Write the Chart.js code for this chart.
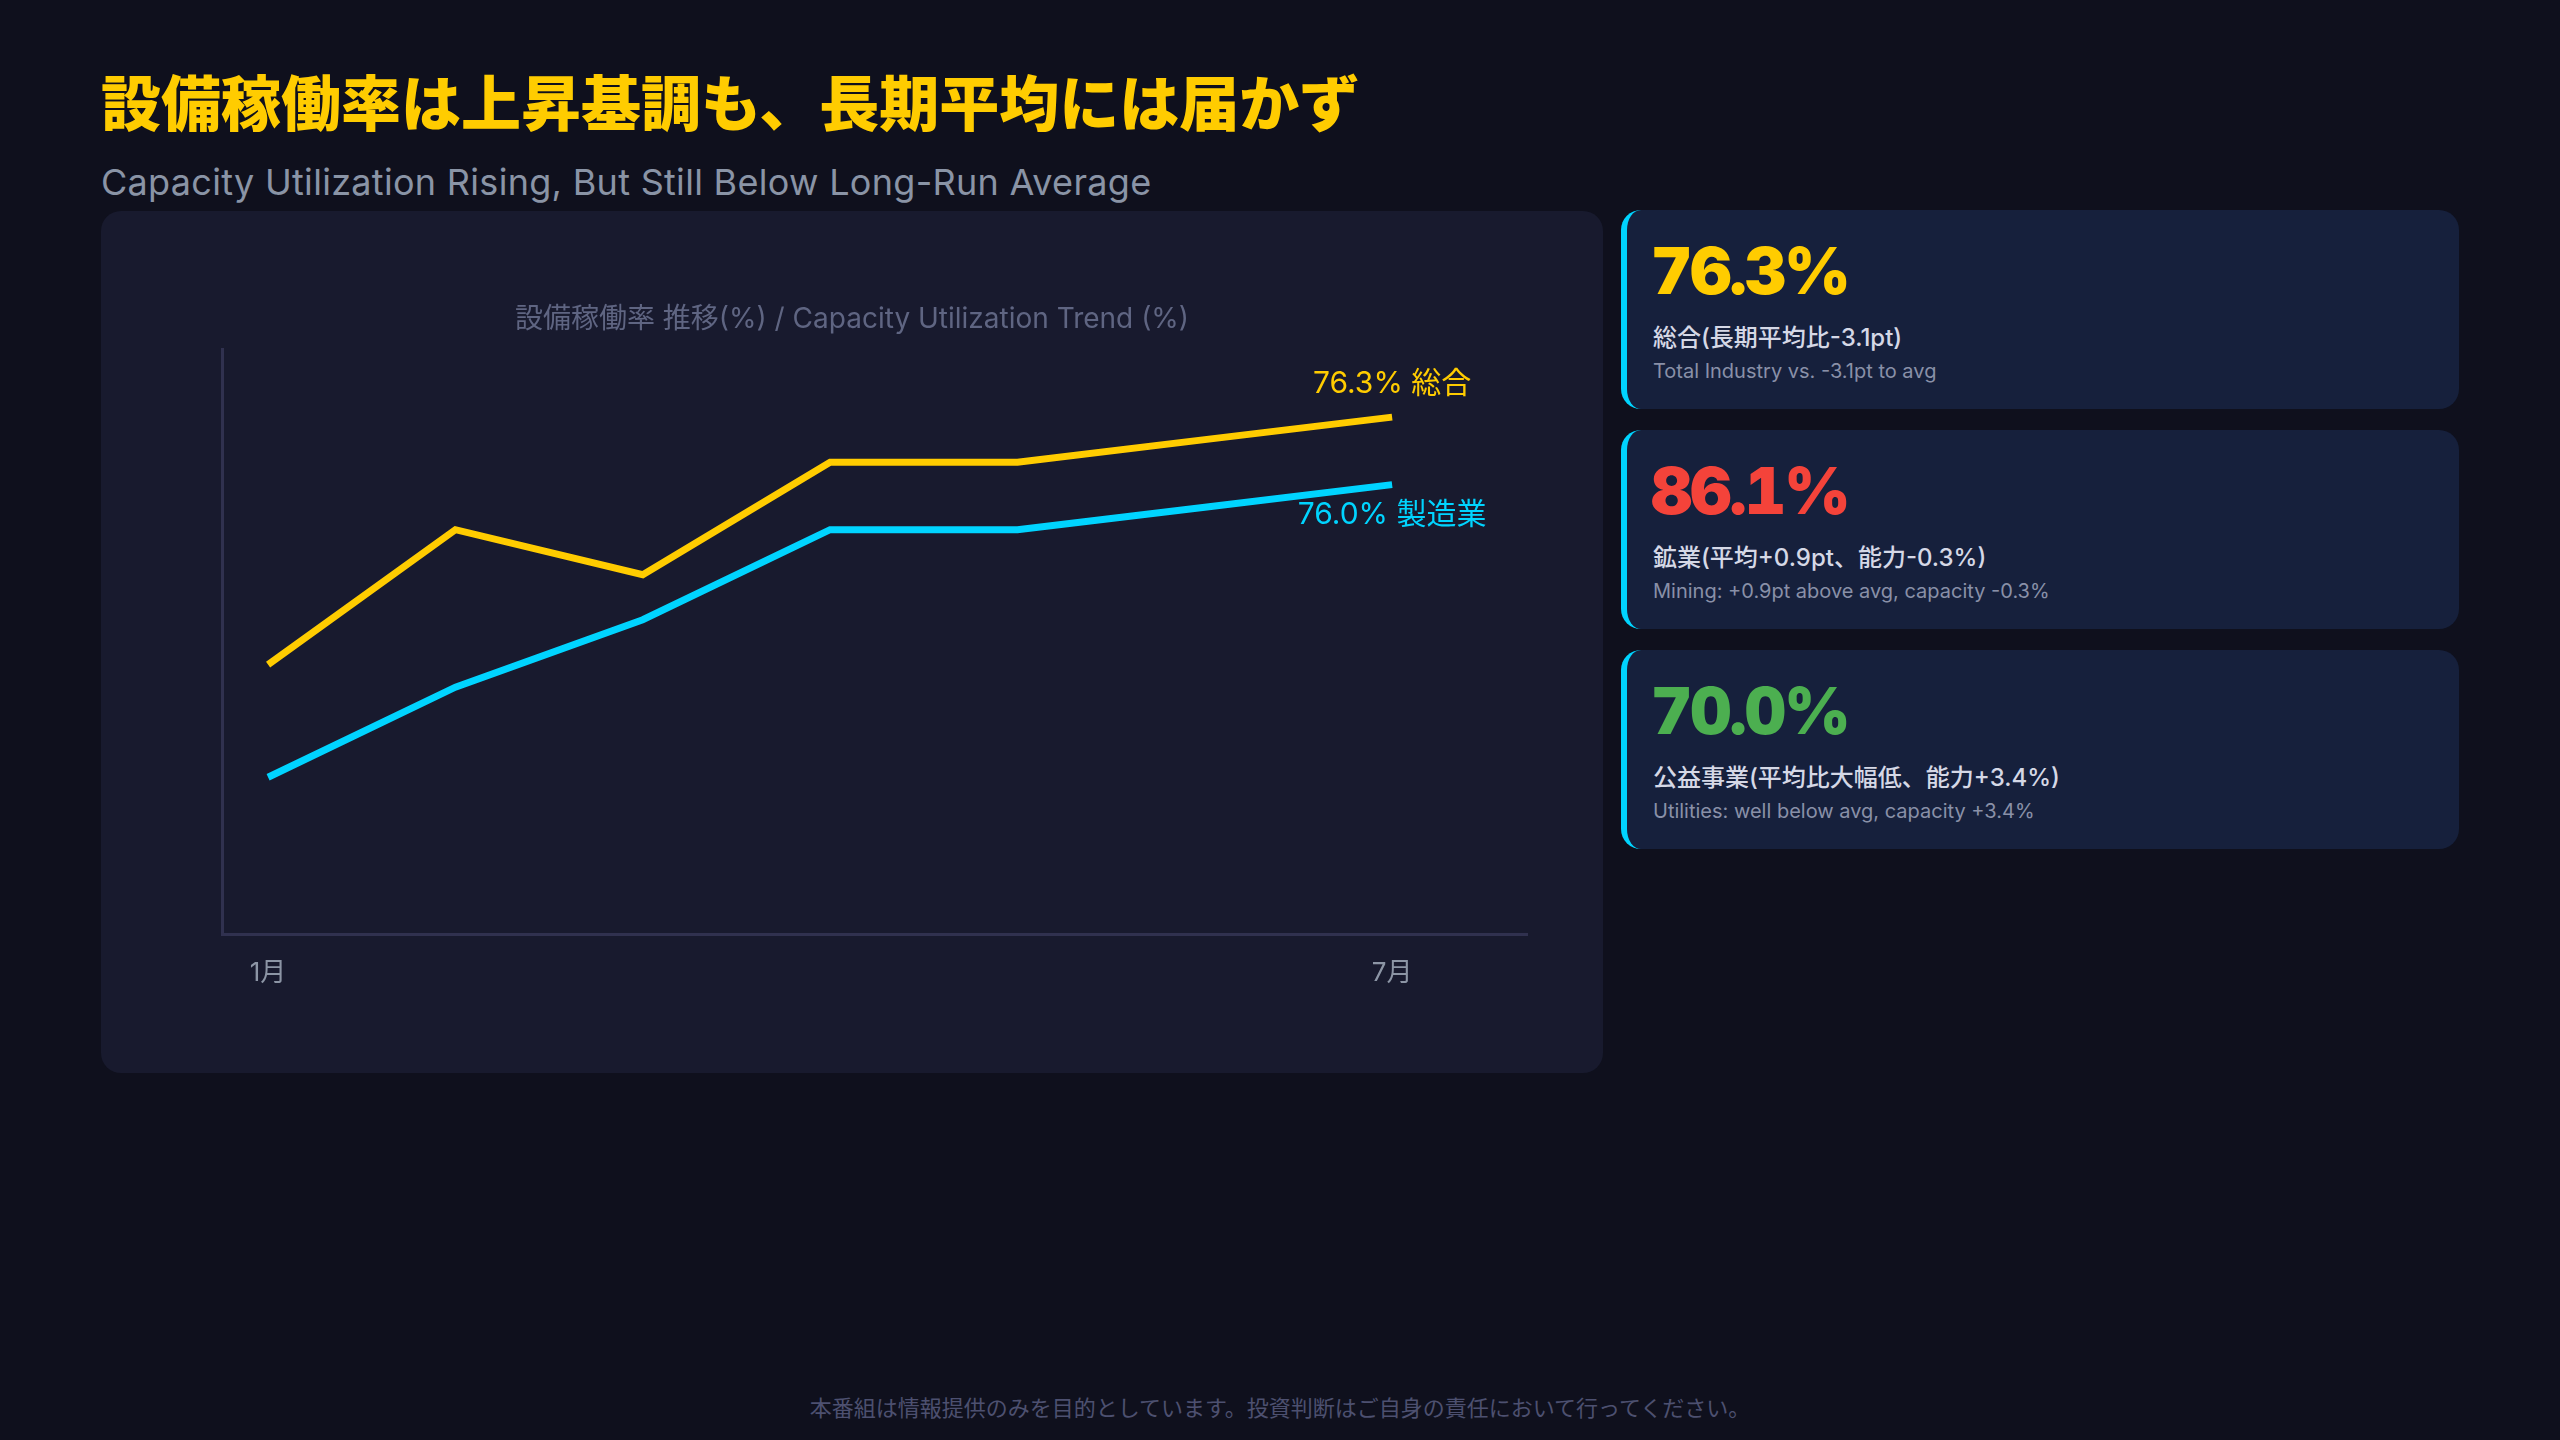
<!DOCTYPE html>
<html lang="ja">
<head>
<meta charset="utf-8">
<script src="https://cdn.jsdelivr.net/npm/chart.js@4.4.1/dist/chart.umd.min.js"></script>
<style>
  html, body { margin: 0; padding: 0; }
  body {
    width: 2560px; height: 1440px; position: relative; overflow: hidden;
    background: #0f101d;
    font-family: "Inter", "Noto Sans CJK JP", sans-serif;
  }
  .title {
    position: absolute; left: 101px; top: 70px; margin: 0;
    font-family: "Noto Sans CJK JP", sans-serif; font-weight: 900;
    font-size: 60px; line-height: 60px; color: #ffcc00; white-space: nowrap;
  }
  .subtitle {
    position: absolute; left: 101px; top: 164px; margin: 0;
    font-size: 36px; line-height: 36px; letter-spacing: 0.3px; color: #8a94a6; white-space: nowrap;
  }
  .chart-card {
    position: absolute; left: 101px; top: 211px; width: 1502px; height: 862px;
    background: #181a2e; border-radius: 20px;
  }
  .chart-card canvas { position: absolute; left: 0; top: 0; }
  .kpi {
    position: absolute; left: 1621px; width: 832px; height: 199px;
    background: #16203c; border-left: 6px solid #00d4ff; border-radius: 20px;
  }
  .kpi .num {
    position: absolute; left: 24px; top: 29px; font-weight: 900;
    font-size: 64px; line-height: 64px; letter-spacing: -2px; white-space: nowrap;
    font-variant-numeric: tabular-nums;
  }
  .kpi .lab {
    position: absolute; left: 26px; top: 116px; font-weight: 500;
    font-size: 24px; line-height: 24px; color: #d5d8e6; white-space: nowrap;
  }
  .kpi .sub {
    position: absolute; left: 26px; top: 151px;
    font-size: 20px; line-height: 20px; color: #8990a8; white-space: nowrap;
  }
  .footer {
    position: absolute; left: 0; width: 2560px; top: 1394px; text-align: center;
    font-family: "Noto Sans CJK JP", sans-serif;
    font-size: 22px; line-height: 24px; color: #4d5070; white-space: nowrap;
  }
</style>
</head>
<body>
<h1 class="title">設備稼働率は上昇基調も、長期平均には届かず</h1>
<p class="subtitle">Capacity Utilization Rising, But Still Below Long-Run Average</p>

<div class="chart-card"><canvas id="c" width="1502" height="862"></canvas></div>

<div class="kpi" style="top:210px">
  <div class="num" style="color:#ffcc00">76.3%</div>
  <div class="lab">総合(長期平均比-3.1pt)</div>
  <div class="sub">Total Industry vs. -3.1pt to avg</div>
</div>
<div class="kpi" style="top:430px">
  <div class="num" style="color:#f4433a">86.1%</div>
  <div class="lab">鉱業(平均+0.9pt、能力-0.3%)</div>
  <div class="sub">Mining: +0.9pt above avg, capacity -0.3%</div>
</div>
<div class="kpi" style="top:650px">
  <div class="num" style="color:#4caf50">70.0%</div>
  <div class="lab">公益事業(平均比大幅低、能力+3.4%)</div>
  <div class="sub">Utilities: well below avg, capacity +3.4%</div>
</div>

<div class="footer">本番組は情報提供のみを目的としています。投資判断はご自身の責任において行ってください。</div>

<script>
// ---- data ----
const months = ["1月", "2月", "3月", "4月", "5月", "6月", "7月"];
const totalIndustry = [75.2, 75.8, 75.6, 76.1, 76.1, 76.2, 76.3];
const manufacturing = [74.7, 75.1, 75.4, 75.8, 75.8, 75.9, 76.0];
const seriesNames = ["総合", "製造業"];
const tickMonthsShown = [1, 7];

const toPoints = arr => arr.map((v, i) => ({ x: i + 1, y: v }));

const endLabels = {
  id: 'endLabels',
  afterDatasetsDraw(chart) {
    const ctx = chart.ctx;
    ctx.save();
    ctx.font = '30px Inter, "Noto Sans CJK JP", sans-serif';
    ctx.textAlign = 'center';
    ctx.textBaseline = 'middle';
    chart.data.datasets.forEach((ds, di) => {
      const meta = chart.getDatasetMeta(di);
      const last = meta.data[meta.data.length - 1];
      const val = ds.data[ds.data.length - 1].y;
      const dy = di === 0 ? -33 : 30;
      ctx.fillStyle = ds.borderColor;
      ctx.fillText(val.toFixed(1) + '% ' + seriesNames[di], last.x, last.y + dy);
    });
    ctx.restore();
  }
};

Chart.defaults.font.family = 'Inter, "Noto Sans CJK JP", sans-serif';

new Chart(document.getElementById('c'), {
  type: 'line',
  data: {
    datasets: [
      { label: seriesNames[0], data: toPoints(totalIndustry), borderColor: '#ffcc00',
        borderWidth: 7, pointRadius: 0, tension: 0, fill: false },
      { label: seriesNames[1], data: toPoints(manufacturing), borderColor: '#00d4ff',
        borderWidth: 7, pointRadius: 0, tension: 0, fill: false }
    ]
  },
  options: {
    responsive: false,
    animation: false,
    devicePixelRatio: 1,
    layout: { padding: { left: 76, right: 76, top: 60, bottom: 61 } },
    plugins: {
      legend: { display: false },
      tooltip: { enabled: false },
      title: {
        display: true,
        text: '設備稼働率 推移(%) / Capacity Utilization Trend (%)',
        color: '#5f6582',
        font: { size: 28, weight: 'normal' },
        padding: { top: 32, bottom: 13 }
      }
    },
    scales: {
      x: {
        type: 'linear', min: 0.754, max: 7.72,
        grid: { display: false, drawTicks: false },
        border: { display: true, color: '#30314f', width: 3 },
        afterBuildTicks: s => { s.ticks = tickMonthsShown.map(v => ({ value: v })); },
        ticks: {
          color: '#8c95a5', font: { size: 26 }, padding: 23,
          autoSkip: false, maxRotation: 0,
          callback: v => months[v - 1]
        }
      },
      y: {
        type: 'linear', min: 74.0, max: 76.6,
        grid: { display: false, drawTicks: false },
        border: { display: true, color: '#30314f', width: 3 },
        ticks: { display: false },
        afterFit: s => { s.width = 45; }
      }
    }
  },
  plugins: [endLabels]
});
</script>
</body>
</html>
